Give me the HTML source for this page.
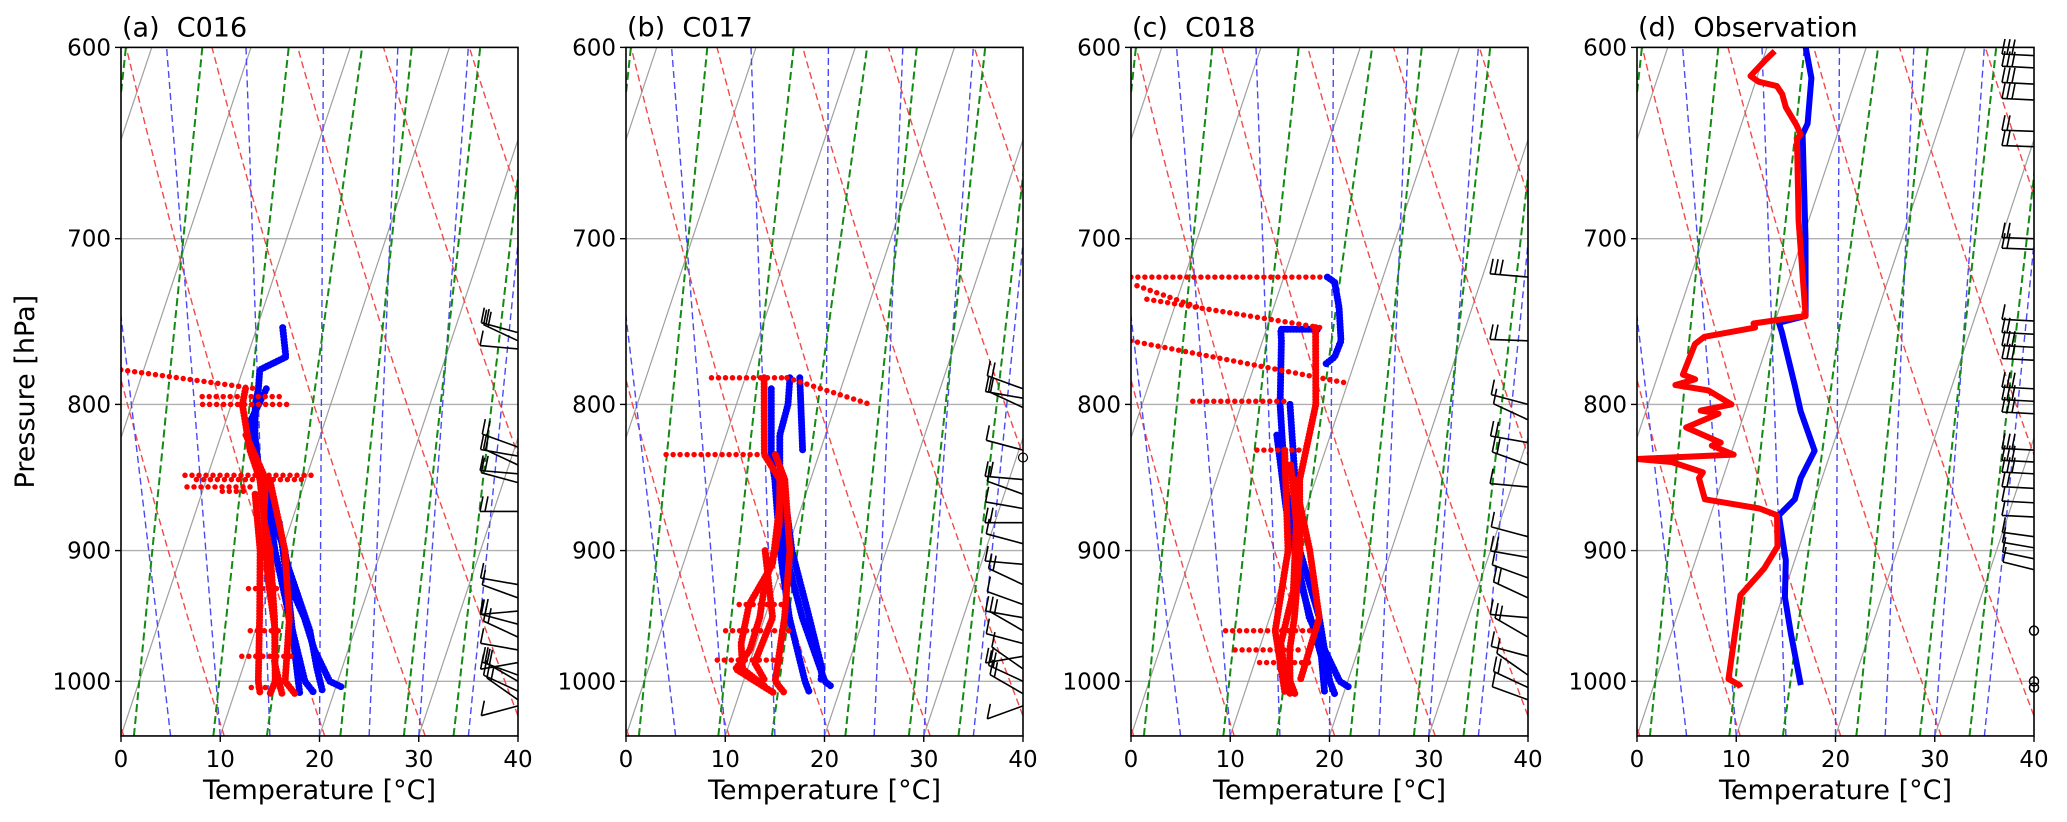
<!DOCTYPE html>
<html><head><meta charset="utf-8">
<style>
html,body{margin:0;padding:0;background:#fff;}
svg{display:block;font-family:"DejaVu Sans","Liberation Sans",sans-serif;}
.ttl{white-space:pre;}
</style></head>
<body>
<svg id="chart" width="2067" height="822" viewBox="0 0 2067 822" xmlns="http://www.w3.org/2000/svg">
<rect x="0" y="0" width="2067" height="822" fill="#fff"/>
</svg>
<script>
// ---------- data ----------
const panelTitles = ["(a)  C016","(b)  C017","(c)  C018","(d)  Observation"];
const pressureTicks = [600,700,800,900,1000];
const tempTicks = [0,10,20,30,40];
const isothermT = [-40,-30,-20,-10,0,10,20,30,40];
const dryThetaK = [250,260,270,280,290,300,310,320,330,340,350,360];
const moistBottomT = [-7,1.3,9.3,14.7,22.1,28.5,33.5];
const moistTopT = [-22.6,-14.9,-6.2,1.2,6.2,13.1,18.4];
const mixBottomT = [-5,0,5,10,15,20,25,30,35];
const mixTopT = [-42.1,-34.1,-26.3,-18.5,-10.5,-2.7,4.8,11.9,18.9];

// panel a
const a_blue1 = [[752,2.6],[770,3.9],[778,1.7],[790,2.2],[800,2.4],[820,3.4],[850,5.4],[880,8.3],[900,10.3],[925,11.9],[950,14.5],[975,16.6],[1000,19.2],[1005,20.7]];
const a_blue2 = [[850,5.9],[900,9.3],[950,13.0],[1000,16.7],[1010,18.1]];
const a_blue3 = [[880,8.8],[925,11.7],[975,14.6],[1010,16.6]];
const a_blue4 = [[790,3.0],[810,2.5],[840,4.5],[870,7.8],[910,11.0],[960,15.5],[990,17.5],[1008,18.8]];
const a_red1 = [[790,0.9],[800,1.1],[830,3.4],[850,5.4],[880,7.3],[900,8.8],[950,11.5],[1000,13.7],[1010,13.6]];
const a_red2 = [[850,6.4],[900,10.3],[950,13.0],[1000,14.7],[1010,16.1]];
const a_red3 = [[860,5.4],[900,7.8],[950,10.0],[1000,12.0],[1010,12.6]];
const a_red4 = [[820,2.5],[850,6.0],[875,7.0],[920,9.5],[960,12.0],[985,13.0],[1010,14.8]];
const a_spikes = [[[778,-12.3],[790,2.05]],[[847,-2.3],[847,11.1]],[[850,-1.0],[850,10.0]],[[855,-1.7],[855,5.1]],[[795,-3.2],[795,4.6]],[[800,-2.9],[800,5.9]],[[858,2.0],[858,4.4]],[[928,7.9],[928,11.4]],[[980,9.5],[980,14.5]],[[960,9.5],[960,13.0]],[[1005,11.5],[1005,15.0]]];
// panel b
const b_blue1 = [[783,4.5],[800,5.2],[820,5.4],[850,6.9],[900,9.8],[950,13.8],[1000,18.2],[1005,19.2]];
const b_blue2 = [[790,3.0],[835,5.3],[850,6.4],[900,9.3],[950,12.5],[1000,16.2],[1010,17.1]];
const b_blue3 = [[783,5.5],[830,8.2]];
const b_blue4 = [[850,7.2],[900,10.5],[950,14.5],[990,17.5],[1000,17.8]];
const b_red1 = [[783,1.9],[833,4.5],[850,6.9],[880,8.3],[900,8.8],[925,8.9],[950,9.5],[975,9.6],[990,8.8],[1000,11.2],[1010,13.6]];
const b_red2 = [[833,5.6],[850,7.4],[900,10.3],[950,12.0],[1000,13.2],[1010,14.6]];
const b_red3 = [[900,7.8],[950,10.8],[985,10.5],[1000,12.2]];
const b_red4 = [[860,7.5],[910,9.0],[940,8.0],[970,8.5],[990,9.5],[1005,12.5]];
const b_spikes = [[[783,-3.4],[783,4.2]],[[783,4.2],[800,13.5]],[[833,-5.4],[833,4.5]],[[983,6.65],[983,13.45]],[[960,6.5],[960,13.5]],[[940,7.0],[940,11.5]]];
// panel c
const c_blue1 = [[722,4.4],[725,5.3],[740,6.6],[760,7.9],[770,7.8],[775,7.05]];
const c_blue2 = [[753,5.15],[753,1.45],[760,1.9],[800,3.9],[850,6.9],[900,10.3],[950,14.0],[1000,19.2],[1005,20.4]];
const c_blue3 = [[800,4.9],[900,10.8],[950,15.0],[1000,18.2],[1010,19.1]];
const c_blue4 = [[820,4.6],[870,8.0],[930,12.5],[980,16.5],[1008,18.0]];
const c_red1 = [[752,4.9],[800,7.5],[850,8.4],[900,10.8],[950,12.5],[975,13.1],[1000,14.2],[1010,15.1]];
const c_red2 = [[850,7.9],[900,11.8],[950,15.0],[1000,15.2]];
const c_red3 = [[830,5.9],[900,9.6],[960,11.0],[1010,14.1]];
const c_red4 = [[840,7.0],[880,9.5],[930,11.5],[970,12.0],[995,13.5],[1010,14.6]];
const c_spikes = [[[722,-15.4],[722,3.9]],[[735,-13.05],[752,5.4]],[[760,-13.3],[786,9.6]],[[798,-5.0],[798,4.3]],[[830,3.1],[830,7.4]],[[960,6.0],[960,14.5]],[[975,7.6],[975,14.1]],[[985,10.5],[985,15.5]],[[727,-14.5],[740,-7.5]]];
// panel d (observation)
const d_blue = [[600,-6.1],[615,-4.5],[638,-3.35],[643.5,-3.5],[700,0.3],[745,2.9],[749,0.43],[754.6,1.04],[787.6,4.12],[804.5,5.61],[830.5,8.33],[849,7.85],[863.6,7.96],[874.7,6.89],[884,7.53],[907,9.1],[934.5,10.25],[962.7,12.1],[1003,14.8]];
const d_red = [[601.8,-9.1],[606,-9.7],[614,-10.7],[616.8,-9.7],[619,-7.7],[623,-6.9],[629.6,-6.1],[638.9,-4.4],[643.5,-3.7],[646,-3.9],[690,-1.0],[745,2.9],[746,1.7],[749.5,-2.1],[752,-1.8],[757.6,-6.6],[762,-7.3],[781,-7.5],[784,-6.1],[787.6,-7.9],[791,-4.4],[800,-1.6],[804,-4.5],[806,-2.6],[815,-5.4],[825,-1.4],[827,-2.2],[833,0.3],[836,-9.3],[838,-5.7],[845,-2.2],[849,-2.4],[863.6,-1.1],[870,4.7],[874.7,6.7],[897,7.8],[913,7.2],[917,6.9],[933,5.7],[998,7.3],[1003,8.6],[1005,8.8]];
// wind barbs: pressure, staff angle (deg), number of barbs
const barbP_a = [755,760,765,828,834,840,846,852,872,925,935,945,955,965,975,985,995,1000,1008,1015,1020];
const barbA_a = [15,25,5,20,10,25,5,15,0,10,20,-5,15,25,10,-10,20,30,25,35,-15];
const barbN_a = [2,2,1,2,2,1,2,1,2,1,1,2,1,2,1,1,2,2,1,2,1];
const barbP_b = [790,796,802,830,850,860,870,880,895,910,925,940,950,960,970,980,990,1000,1010,1020];
const barbA_b = [20,10,25,15,5,20,10,0,15,5,25,20,10,30,15,-10,35,25,30,-20];
const barbN_b = [2,2,1,1,2,1,1,2,1,1,2,1,1,2,1,2,1,2,2,1];
const barbP_c = [722,760,800,810,825,840,855,890,905,920,935,950,965,980,995,1005,1015];
const barbA_c = [5,2,15,25,10,20,5,15,10,20,25,5,30,15,35,25,20];
const barbN_c = [3,2,1,1,2,2,1,1,2,1,2,1,2,1,1,2,1];
const barbP_d = [604,610,618,626,642,650,700,706,748,756,764,772,790,798,806,830,838,846,856,866,876,890,898,906,914];
const barbA_d = [3,3,3,3,2,2,2,2,3,3,3,3,3,3,3,3,3,3,3,3,3,8,10,12,14];
const barbN_d = [3,3,3,3,2,2,2,2,1,2,3,3,3,3,3,3,3,3,2,1,1,1,1,1,1];
const calmP_d = [960,1000,1005];

// ---------- geometry ----------
const SVGNS="http://www.w3.org/2000/svg";
const svg=document.getElementById('chart');
const PX=[121,626,1131,1637], W=397, TOP=47.4, K=1241, PB=1045, PT=600, SKEW=0.5774;
function yP(p){return TOP+K*Math.log(p/PT);}
const BOT=yP(PB);
function yax(p){return Math.log(PB/p)/Math.log(PB/PT);}
function xT(i,T,p){return PX[i]+W*(T/40+SKEW*yax(p));}
function mk(tag,attrs,parent){const e=document.createElementNS(SVGNS,tag);for(const k in attrs)e.setAttribute(k,attrs[k]);(parent||svg).appendChild(e);return e;}
function pathFrom(i,pts){return pts.map((q,j)=>(j?'L':'M')+xT(i,q[1],q[0]).toFixed(1)+' '+yP(q[0]).toFixed(1)).join(' ');}
function logSpace(){const a=[];for(let p=PB;p>=PT;p-=5)a.push(p);a.push(PT);return a;}

const defs=mk('defs',{});
for(let i=0;i<4;i++){
  const cp=mk('clipPath',{id:'clip'+i},defs);
  mk('rect',{x:PX[i],y:TOP,width:W,height:BOT-TOP},cp);
}

for(let i=0;i<4;i++){
  const g=mk('g',{'clip-path':'url(#clip'+i+')'});
  
  
  pressureTicks.forEach(p=>{
    const l=mk('line',{x1:PX[i],x2:PX[i]+W,y1:yP(p),y2:yP(p),stroke:'#b0b0b0','stroke-width':1.3},g);
    
    
  });
  isothermT.forEach(T=>{
    const l=mk('line',{x1:xT(i,T,PB),y1:BOT,x2:xT(i,T,PT),y2:TOP,stroke:'#a0a0a0','stroke-width':1.2},g);
    
    
  });
  dryThetaK.forEach(th=>{
    const pts=logSpace().map(p=>[p,th*Math.pow(p/1000,0.286)-273.15]);
    const l=mk('path',{d:pathFrom(i,pts),fill:'none',stroke:'#f04a4a','stroke-width':1.4,'stroke-dasharray':'7 4'},g);
    
    
  });
  mixBottomT.forEach((tb,k)=>{
    const tt=mixTopT[k];
    const pts=logSpace().map(p=>{const f=yax(p);return [p,tb+(tt-tb)*f];});
    const l=mk('path',{d:pathFrom(i,pts),fill:'none',stroke:'#4a4af5','stroke-width':1.4,'stroke-dasharray':'7 4'},g);
    
    
  });
  moistBottomT.forEach((tb,k)=>{
    const tt=moistTopT[k];
    const pts=logSpace().map(p=>{const f=yax(p);return [p,tb+(tt-tb)*f];});
    const l=mk('path',{d:pathFrom(i,pts),fill:'none',stroke:'#138a13','stroke-width':2,'stroke-dasharray':'8 4'},g);
    
    
  });
}

const modelBlue=[[a_blue1,a_blue2,a_blue3,a_blue4],[b_blue1,b_blue2,b_blue3,b_blue4],[c_blue1,c_blue2,c_blue3,c_blue4]];
const modelRed=[[a_red1,a_red2,a_red3,a_red4],[b_red1,b_red2,b_red3,b_red4],[c_red1,c_red2,c_red3,c_red4]];
const modelSpikes=[a_spikes,b_spikes,c_spikes];
for(let i=0;i<3;i++){
  const g=mk('g',{'clip-path':'url(#clip'+i+')'});
  
  
  modelBlue[i].forEach(tr=>{
    const l=mk('path',{d:pathFrom(i,tr),fill:'none',stroke:'#0000ff','stroke-width':7,'stroke-linecap':'round','stroke-linejoin':'round','stroke-dasharray':'0 3'},g);
    
    
  });
  modelSpikes[i].forEach(tr=>{
    const l=mk('path',{d:pathFrom(i,tr),fill:'none',stroke:'#ff0000','stroke-width':5.5,'stroke-linecap':'round','stroke-dasharray':'0 7'},g);
    
    
  });
  modelRed[i].forEach(tr=>{
    const l=mk('path',{d:pathFrom(i,tr),fill:'none',stroke:'#ff0000','stroke-width':7,'stroke-linecap':'round','stroke-linejoin':'round','stroke-dasharray':'0 3'},g);
    
    
  });
}
{
  const g=mk('g',{'clip-path':'url(#clip3)'});
  
  
  const b=mk('path',{d:pathFrom(3,d_blue),fill:'none',stroke:'#0000ff','stroke-width':6,'stroke-linejoin':'round'},g);
  
  
  const r=mk('path',{d:pathFrom(3,d_red),fill:'none',stroke:'#ff0000','stroke-width':6,'stroke-linejoin':'round'},g);
  
  
}

const barbSets=[[barbP_a,barbA_a,barbN_a],[barbP_b,barbA_b,barbN_b],[barbP_c,barbA_c,barbN_c],[barbP_d,barbA_d,barbN_d]];
barbSets.forEach((s,i)=>{
  const g=mk('g',{});
  
  
  const xr=PX[i]+W, L=(i===3?32:38);
  s[0].forEach((p,k)=>{
    const a=s[1][k]*Math.PI/180, y=yP(p);
    const x2=xr-L*Math.cos(a), y2=y-L*Math.sin(a);
    let d='M'+xr+' '+y.toFixed(1)+' L'+x2.toFixed(1)+' '+y2.toFixed(1);
    for(let n=0;n<s[2][k];n++){
      const bx=x2+n*5*Math.cos(a), by=y2+n*5*Math.sin(a);
      d+=' M'+bx.toFixed(1)+' '+by.toFixed(1)+' L'+(bx+3).toFixed(1)+' '+(by-15).toFixed(1);
    }
    const l=mk('path',{d:d,fill:'none',stroke:'#000','stroke-width':1.6},g);
    
    
  });
});
calmP_d.forEach(p=>{
  const c=mk('circle',{cx:PX[3]+W,cy:yP(p),r:4.5,fill:'none',stroke:'#000','stroke-width':1.5});
  
  
});
{const c=mk('circle',{cx:PX[1]+W,cy:yP(835),r:4.5,fill:'none',stroke:'#000','stroke-width':1.2});
 
 }

for(let i=0;i<4;i++){
  const g=mk('g',{});
  
  
  const fr=mk('rect',{x:PX[i],y:TOP,width:W,height:BOT-TOP,fill:'none',stroke:'#000','stroke-width':1.6},g);
  
  
  pressureTicks.forEach(p=>{
    const t=mk('line',{x1:PX[i]-6,x2:PX[i],y1:yP(p),y2:yP(p),stroke:'#000','stroke-width':1.4},g);
    
    
    const tx=mk('text',{x:PX[i]-10,y:yP(p)+8,'text-anchor':'end','font-size':23,fill:'#000'},g);
    tx.textContent=p;
    
    
  });
  tempTicks.forEach(T=>{
    const x=PX[i]+W*T/40;
    const t=mk('line',{x1:x,x2:x,y1:BOT,y2:BOT+6,stroke:'#000','stroke-width':1.4},g);
    
    
    const tx=mk('text',{x:x,y:BOT+31,'text-anchor':'middle','font-size':23,fill:'#000'},g);
    tx.textContent=T;
    
    
  });
  const xl=mk('text',{x:PX[i]+W/2,y:BOT+63,'text-anchor':'middle','font-size':27,fill:'#000'},g);
  xl.textContent='Temperature [°C]';
  
  
  const ti=mk('text',{x:PX[i]+1,y:TOP-11,'font-size':27,fill:'#000','class':'ttl'},g);
  ti.textContent=panelTitles[i];
  
  
}
const yl=mk('text',{x:0,y:0,'text-anchor':'middle','font-size':27,fill:'#000',transform:'translate(34,'+((TOP+BOT)/2)+') rotate(-90)'});
yl.textContent='Pressure [hPa]';


</script>
</body></html>
